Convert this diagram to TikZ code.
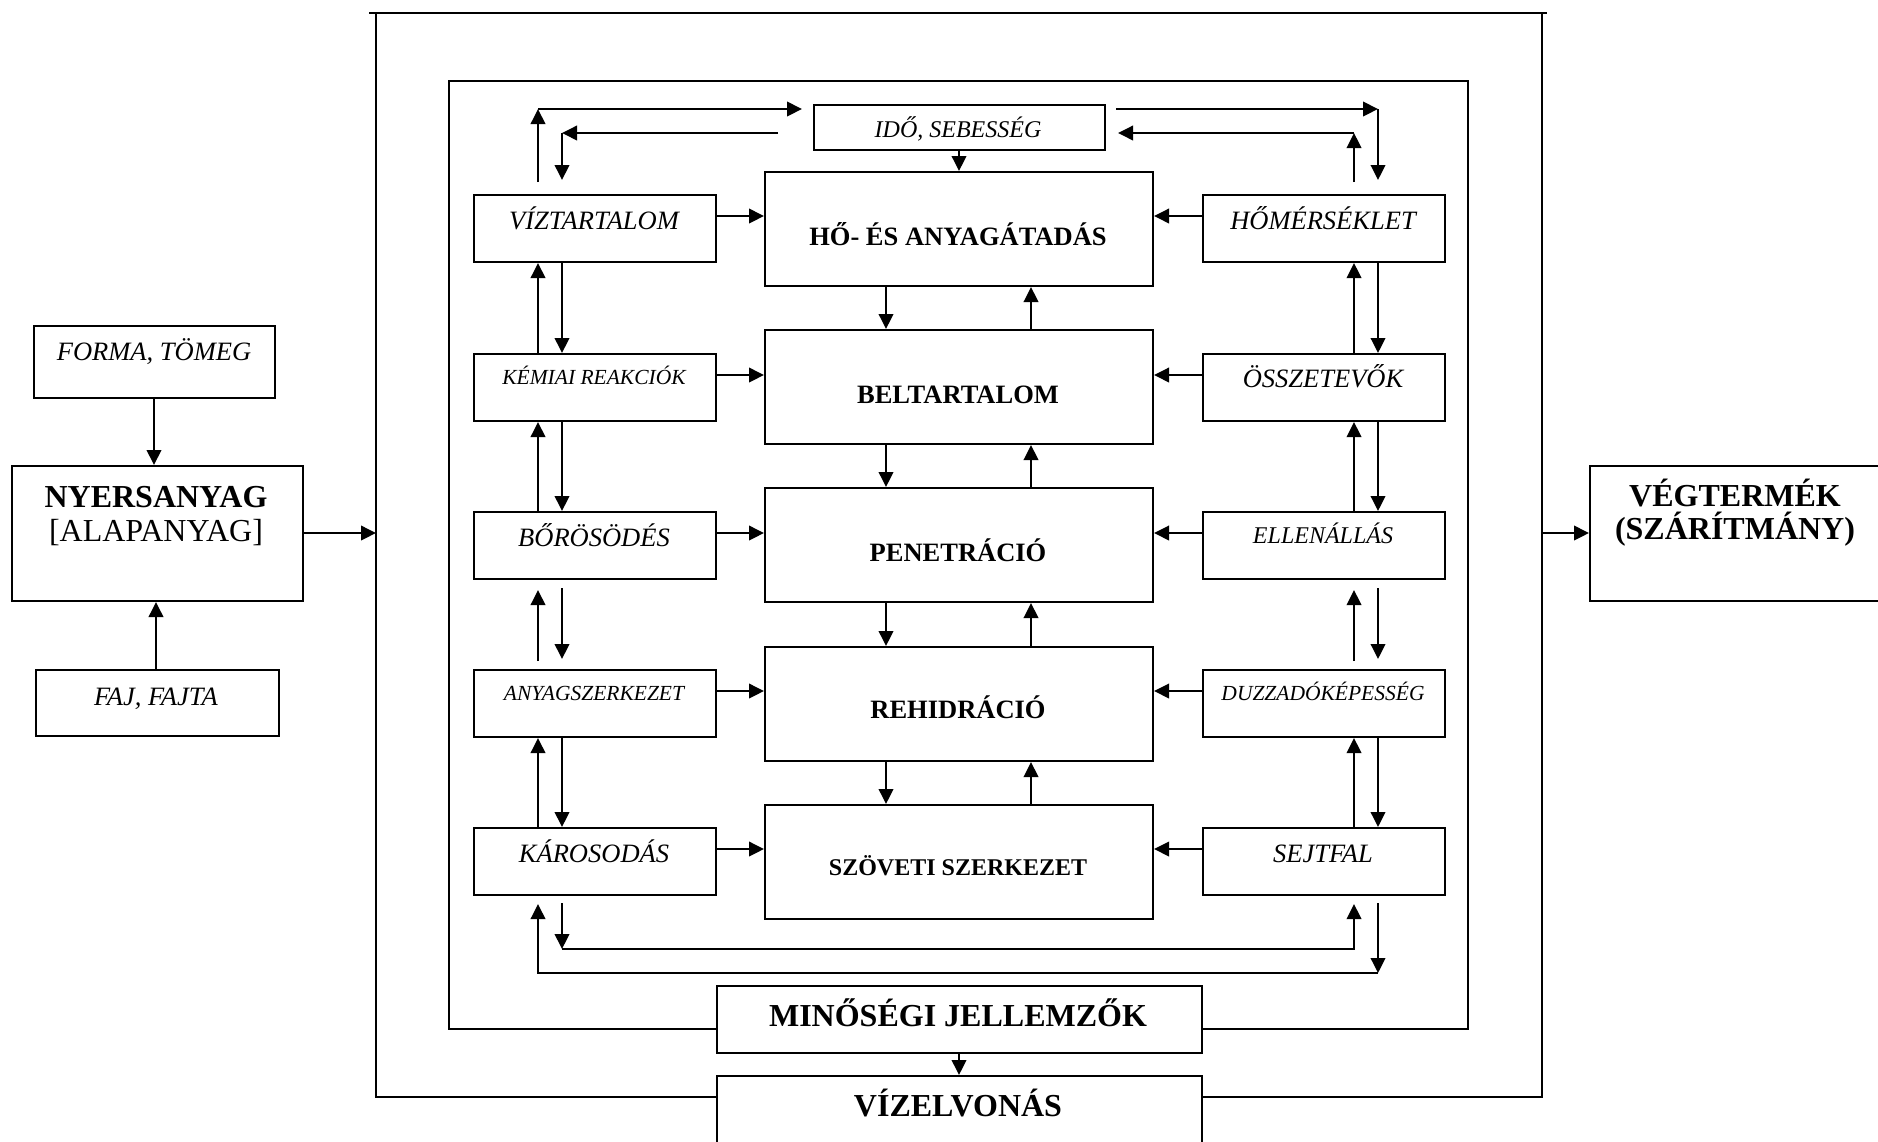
\documentclass[tikz,border=0pt]{standalone}
\usepackage{fontspec}
\setmainfont{Liberation Serif}
\usetikzlibrary{arrows.meta}
\newcommand\fBig{\fontsize{32}{35}\selectfont\bfseries}
\newcommand\fReg{\fontsize{32}{35}\selectfont}
\newcommand\fCen{\fontsize{26.5}{30}\selectfont\bfseries}
\newcommand\fCens{\fontsize{24}{28}\selectfont\bfseries}
\newcommand\fItl{\fontsize{26.5}{30}\selectfont\itshape}
\newcommand\fItm{\fontsize{24}{28}\selectfont\itshape}
\newcommand\fIts{\fontsize{21.5}{25}\selectfont\itshape}
\begin{document}
\begin{tikzpicture}[x=1pt,y=-1pt,line width=2pt,
  box/.style={draw,rectangle,inner sep=0pt,anchor=north west,line width=2pt},
  sbox/.style={box,minimum width=242pt,minimum height=67pt},
  cbox/.style={box,minimum width=388pt,minimum height=114pt},
  lbl/.style={anchor=base,inner sep=0pt},
  arr/.style={-{Triangle[length=15pt,width=14.5pt]},line width=2pt},
  gap/.style={shorten <=8pt,shorten >=10pt}]
\useasboundingbox (0,0) rectangle (1878,1141);
\clip (0,0) rectangle (1878,1141);

% helper coordinates
\coordinate (Lu) at (538,0);
\coordinate (Ld) at (562,0);
\coordinate (Ru) at (1354,0);
\coordinate (Rd) at (1378,0);
\coordinate (Cd) at (886,0);
\coordinate (Cu) at (1031,0);
\coordinate (Cm) at (959,0);
\coordinate (xF) at (154,0);
\coordinate (xJ) at (156,0);
\coordinate (yIO) at (0,533);
\coordinate (yT1) at (0,109);
\coordinate (yT2) at (0,133);
\coordinate (yB1) at (0,949);
\coordinate (yB2) at (0,973);
\coordinate (fbl) at (376,1097);
\coordinate (fbr) at (1542,1097);
\coordinate (ibl) at (449,1029);
\coordinate (ibr) at (1468,1029);

% left column
\node[sbox] (viz) at (473,194) {};
\node[sbox] (kem) at (473,353) {};
\node[sbox] (bor) at (473,511) {};
\node[sbox] (any) at (473,669) {};
\node[sbox] (kar) at (473,827) {};
% right column
\node[sbox] (hom) at (1202,194) {};
\node[sbox] (ossz) at (1202,353) {};
\node[sbox] (ell) at (1202,511) {};
\node[sbox] (duz) at (1202,669) {};
\node[sbox] (sejt) at (1202,827) {};
% center column
\node[cbox] (ho) at (764,171) {};
\node[cbox] (bel) at (764,329) {};
\node[cbox] (pen) at (764,487) {};
\node[cbox] (reh) at (764,646) {};
\node[cbox] (szov) at (764,804) {};
% others
\node[box,minimum width=291pt,minimum height=45pt] (ido) at (813,104) {};
\node[box,minimum width=485pt,minimum height=67pt] (min) at (716,985) {};
\node[box,minimum width=485pt,minimum height=140pt] (vizelv) at (716,1075) {};
\node[box,minimum width=241pt,minimum height=72pt] (forma) at (33,325) {};
\node[box,minimum width=291pt,minimum height=135pt] (nyers) at (11,465) {};
\node[box,minimum width=243pt,minimum height=66pt] (faj) at (35,669) {};
\node[box,minimum width=330pt,minimum height=135pt] (veg) at (1589,465) {};

% texts
\node[lbl,font=\fItl] (viz-t) at (594,229) {VÍZTARTALOM};
\node[lbl,font=\fIts] (kem-t) at (594,384) {KÉMIAI REAKCIÓK};
\node[lbl,font=\fItl] (bor-t) at (594,546) {BŐRÖSÖDÉS};
\node[lbl,font=\fIts] (any-t) at (594,700) {ANYAGSZERKEZET};
\node[lbl,font=\fItl] (kar-t) at (594,862) {KÁROSODÁS};
\node[lbl,font=\fItl] (hom-t) at (1323,229) {HŐMÉRSÉKLET};
\node[lbl,font=\fItl] (ossz-t) at (1323,387) {ÖSSZETEVŐK};
\node[lbl,font=\fItm] (ell-t) at (1323,543) {ELLENÁLLÁS};
\node[lbl,font=\fIts] (duz-t) at (1323,700) {DUZZADÓKÉPESSÉG};
\node[lbl,font=\fItl] (sejt-t) at (1323,862) {SEJTFAL};
\node[lbl,font=\fCen] (ho-t) at (958,245) {HŐ- ÉS ANYAGÁTADÁS};
\node[lbl,font=\fCen] (bel-t) at (958,403) {BELTARTALOM};
\node[lbl,font=\fCen] (pen-t) at (958,561) {PENETRÁCIÓ};
\node[lbl,font=\fCen] (reh-t) at (958,718) {REHIDRÁCIÓ};
\node[lbl,font=\fCens] (szov-t) at (958,875) {SZÖVETI SZERKEZET};
\node[lbl,font=\fItm] (ido-t) at (958,137) {IDŐ, SEBESSÉG};
\node[lbl,font=\fBig] (min-t) at (958,1026) {MINŐSÉGI JELLEMZŐK};
\node[lbl,font=\fBig] (vizelv-t) at (958,1116) {VÍZELVONÁS};
\node[lbl,font=\fItl] (forma-t) at (154,360) {FORMA, TÖMEG};
\node[lbl,font=\fBig] (nyers-t) at (156,507) {NYERSANYAG};
\node[lbl,font=\fReg] (alap-t) at (156,541) {[ALAPANYAG]};
\node[lbl,font=\fItl] (faj-t) at (156,705) {FAJ, FAJTA};
\node[lbl,font=\fBig] (veg-t) at (1735,506) {VÉGTERMÉK};
\node[lbl,font=\fBig] (szar-t) at (1735,539) {(SZÁRÍTMÁNY)};

% outer frame
\draw (369,13) -- (1547,13);
\draw (376,13) -- (fbl) -- (fbl -| vizelv.west);
\draw (1542,13) -- (fbr) -- (fbr -| vizelv.east);
% inner frame
\draw (ibl -| min.west) -- (ibl) -- (449,81) -- (1468,81) -- (ibr) -- (ibr -| min.east);

% outer arrows
\draw[arr] (forma.south -| xF) -- (nyers.north -| xF);
\draw[arr] (faj.north -| xJ) -- (nyers.south -| xJ);
\draw[arr] (nyers.east |- yIO) -- (fbl |- yIO);
\draw[arr] (fbr |- yIO) -- (veg.west |- yIO);
\draw[arr] (min.south -| Cm) -- (vizelv.north -| Cm);
\draw[arr] (ido.south -| Cm) -- (ho.north -| Cm);

% center column arrows
\foreach \a/\b in {ho/bel,bel/pen,pen/reh,reh/szov}{
  \draw[arr] (\a.south -| Cd) -- (\b.north -| Cd);
  \draw[arr] (\b.north -| Cu) -- (\a.south -| Cu);
}
% left column arrows
\foreach \a/\b/\s in {viz/kem/,kem/bor/,bor/any/gap,any/kar/}{
  \draw[arr,\s] (\b.north -| Lu) -- (\a.south -| Lu);
  \draw[arr,\s] (\a.south -| Ld) -- (\b.north -| Ld);
}
% right column arrows
\foreach \a/\b/\s in {hom/ossz/,ossz/ell/,ell/duz/gap,duz/sejt/}{
  \draw[arr,\s] (\b.north -| Ru) -- (\a.south -| Ru);
  \draw[arr,\s] (\a.south -| Rd) -- (\b.north -| Rd);
}
% horizontal arrows into center
\foreach \l/\c/\r in {viz/ho/hom,kem/bel/ossz,bor/pen/ell,any/reh/duz,kar/szov/sejt}{
  \path ([yshift=-22pt]\l.north east) coordinate (hl);
  \draw[arr] (hl) -- (hl -| \c.west);
  \path ([yshift=-22pt]\r.north west) coordinate (hr);
  \draw[arr] (hr) -- (hr -| \c.east);
}

% top loops
\draw[arr,shorten <=12pt] (viz.north -| Lu) -- (Lu |- yT1);
\draw[arr,shorten >=11pt] (Lu |- yT1) -- (ido.west |- yT1);
\draw[arr,shorten <=35pt] (ido.west |- yT2) -- (Ld |- yT2);
\draw[arr,shorten >=14pt] (Ld |- yT2) -- (viz.north -| Ld);
\draw[arr,shorten <=10pt] (ido.east |- yT1) -- (Rd |- yT1);
\draw[arr,shorten >=14pt] (Rd |- yT1) -- (hom.north -| Rd);
\draw[arr,shorten <=12pt] (hom.north -| Ru) -- (Ru |- yT2);
\draw[arr,shorten >=12pt] (Ru |- yT2) -- (ido.east |- yT2);

% bottom loops
\draw[arr,shorten <=7pt] (kar.south -| Ld) -- (Ld |- yB1);
\draw[arr,shorten >=8pt] (Ld |- yB1) -- (Ru |- yB1) -- (sejt.south -| Ru);
\draw[arr,shorten <=7pt] (sejt.south -| Rd) -- (Rd |- yB2);
\draw[arr,shorten >=8pt] (Rd |- yB2) -- (Lu |- yB2) -- (kar.south -| Lu);
\end{tikzpicture}
\end{document}
